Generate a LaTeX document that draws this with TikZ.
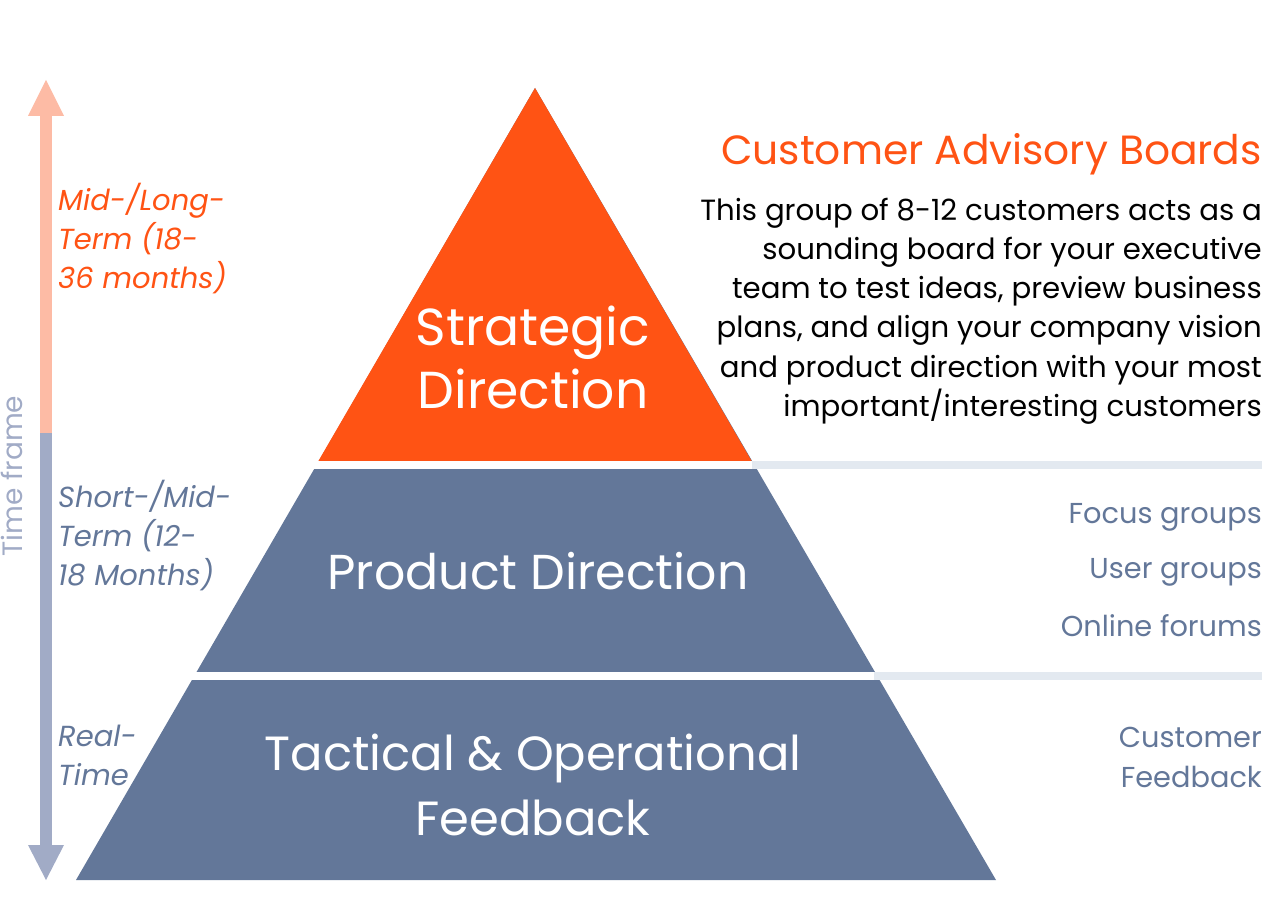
\documentclass[tikz,border=0pt]{standalone}
\usepackage{fontspec}
\setmainfont{Poppins}
\definecolor{corange}{HTML}{FF5314}
\definecolor{cblue}{HTML}{637799}
\definecolor{cline}{HTML}{E3E9F0}
\definecolor{cpeach}{HTML}{FDBBA5}
\definecolor{carrow}{HTML}{A1ABC6}
\tikzset{
  big/.style={inner sep=0pt, text=white, align=center},
  side/.style={inner sep=0pt, align=left, font=\fontsize{29}{39}\selectfont\itshape},
  rside/.style={inner sep=0pt, align=right, text=cblue, font=\fontsize{28.8}{40}\selectfont},
}
\begin{document}
\begin{tikzpicture}[x=1pt,y=-1pt]
\useasboundingbox (0,0) rectangle (1284,909);
% pyramid
\fill[cblue] (535,88) -- (76,880) -- (996,880) -- cycle;
\fill[corange] (535,88) -- (318.4,461) -- (751.6,461) -- cycle;
\fill[white] (150,461) rectangle (760,469);
\fill[white] (150,672) rectangle (880,680);
\fill[cline] (752,461) rectangle (1262,469);
\fill[cline] (874,672) rectangle (1262,680);
% time arrow
\fill[cpeach] (40,116) rectangle (52,433);
\fill[cpeach] (28,116) -- (46,80) -- (64,116) -- cycle;
\fill[carrow] (40,433) rectangle (52,845);
\fill[carrow] (28,845) -- (46,880) -- (64,845) -- cycle;
\node[inner sep=0pt, text=carrow, rotate=90, font=\fontsize{28}{34}\selectfont] (tf) at (12,476) {Time frame};
% pyramid labels
\node[big, font=\fontsize{52}{63}\selectfont] (sd) at (533,357) {Strategic\\Direction};
\node[big, font=\fontsize{49}{63}\selectfont] (pd) at (538,571) {Product Direction};
\node[big, font=\fontsize{48}{65}\selectfont] (to) at (533,785) {Tactical \& Operational\\Feedback};
% left labels
\node[side, text=corange, anchor=west] (ml) at (58,239) {Mid-/Long-\\Term (18-\\36 months)};
\node[side, text=cblue, anchor=west] (sm) at (58,536) {Short-/Mid-\\Term (12-\\18 Months)};
\node[side, text=cblue, anchor=west] (rt) at (58,755) {Real-\\Time};
% right texts
\node[inner sep=0pt, anchor=east, text=corange, font=\fontsize{40.8}{42}\selectfont] (cab) at (1262,154) {Customer Advisory Boards};
\node[inner sep=0pt, anchor=east, align=right, font=\fontsize{29.2}{39.2}\selectfont] (desc) at (1262,311) {This group of 8-12 customers acts as a\\sounding board for your executive\\team to test ideas, preview business\\plans, and align your company vision\\and product direction with your most\\important/interesting customers};
\node[rside, anchor=east] (fg) at (1262,517) {Focus groups};
\node[rside, anchor=east] (ug) at (1262,572) {User groups};
\node[rside, anchor=east] (of) at (1262,626) {Online forums};
\node[rside, anchor=east] (cf) at (1262,757) {Customer\\Feedback};
\end{tikzpicture}
\end{document}
